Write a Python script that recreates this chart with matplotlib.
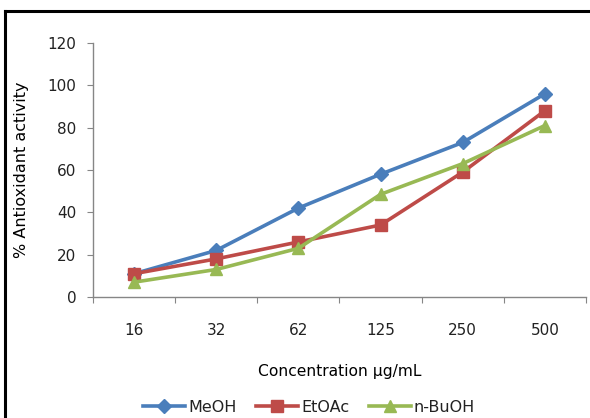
import matplotlib.pyplot as plt
from matplotlib.lines import Line2D

# concentrations (ug/mL) and % antioxidant activity
concentrations = ["16", "32", "62", "125", "250", "500"]
meoh = [11, 22, 42, 58, 73, 96]
etoac = [11, 18, 26, 34, 59, 88]
nbuoh = [7, 13, 23, 48.5, 63, 81]

plt.rcParams['font.family'] = ['DejaVu Sans']
plt.rcParams['text.color'] = '#222222'

fig = plt.figure(figsize=(5.9, 4.18), dpi=100)
ax = fig.add_axes([0.1576, 0.2895, 0.8356, 0.6077])

pos = list(range(len(concentrations)))
ax.plot(pos, meoh, color='#4A7EBB', lw=2.6, marker='D', ms=7.5, label='MeOH')
ax.plot(pos, etoac, color='#BE4B48', lw=2.6, marker='s', ms=8.5, label='EtOAc')
ax.plot(pos, nbuoh, color='#98B954', lw=2.6, marker='^', ms=9, label='n-BuOH')

ax.set_ylim(0, 120)
ax.set_yticks(range(0, 121, 20))
ax.set_xlim(-0.5, len(concentrations) - 0.5)
ax.set_xticks([p - 0.5 for p in range(len(concentrations) + 1)])
ax.set_xticklabels([])
ax.set_xticks(pos, minor=True)
ax.set_xticklabels(concentrations, minor=True)

for s in ['top', 'right']:
    ax.spines[s].set_visible(False)
for s in ['left', 'bottom']:
    ax.spines[s].set_color('#868686')
    ax.spines[s].set_linewidth(1.0)

ax.tick_params(axis='y', which='major', length=4, color='#868686', labelsize=11,
               pad=8, labelcolor='#222222')
ax.tick_params(axis='x', which='major', length=4, color='#868686')
ax.tick_params(axis='x', which='minor', length=0, labelsize=11, pad=19,
               labelcolor='#222222')

ax.set_xlabel('Concentration µg/mL', fontsize=11.2)
ax.set_ylabel('% Antioxidant activity', fontsize=11.5)
ax.xaxis.set_label_coords(0.5, -0.265)
ax.yaxis.set_label_coords(-0.129, 0.5)

fig.legend(loc='center', bbox_to_anchor=(0.524, 0.026), ncol=3, frameon=False,
           fontsize=11.5, handlelength=2.6, handletextpad=0.2, columnspacing=1.25)

# outer frame (partially cropped)
fig.add_artist(Line2D([0.0085, 1.0], [1 - 11 / 418, 1 - 11 / 418], color='black', lw=2.2,
                      transform=fig.transFigure))
fig.add_artist(Line2D([0.0085, 0.0085], [0.0, 1 - 11 / 418], color='black', lw=2.2,
                      transform=fig.transFigure))

fig.savefig('out.png', dpi=100)
